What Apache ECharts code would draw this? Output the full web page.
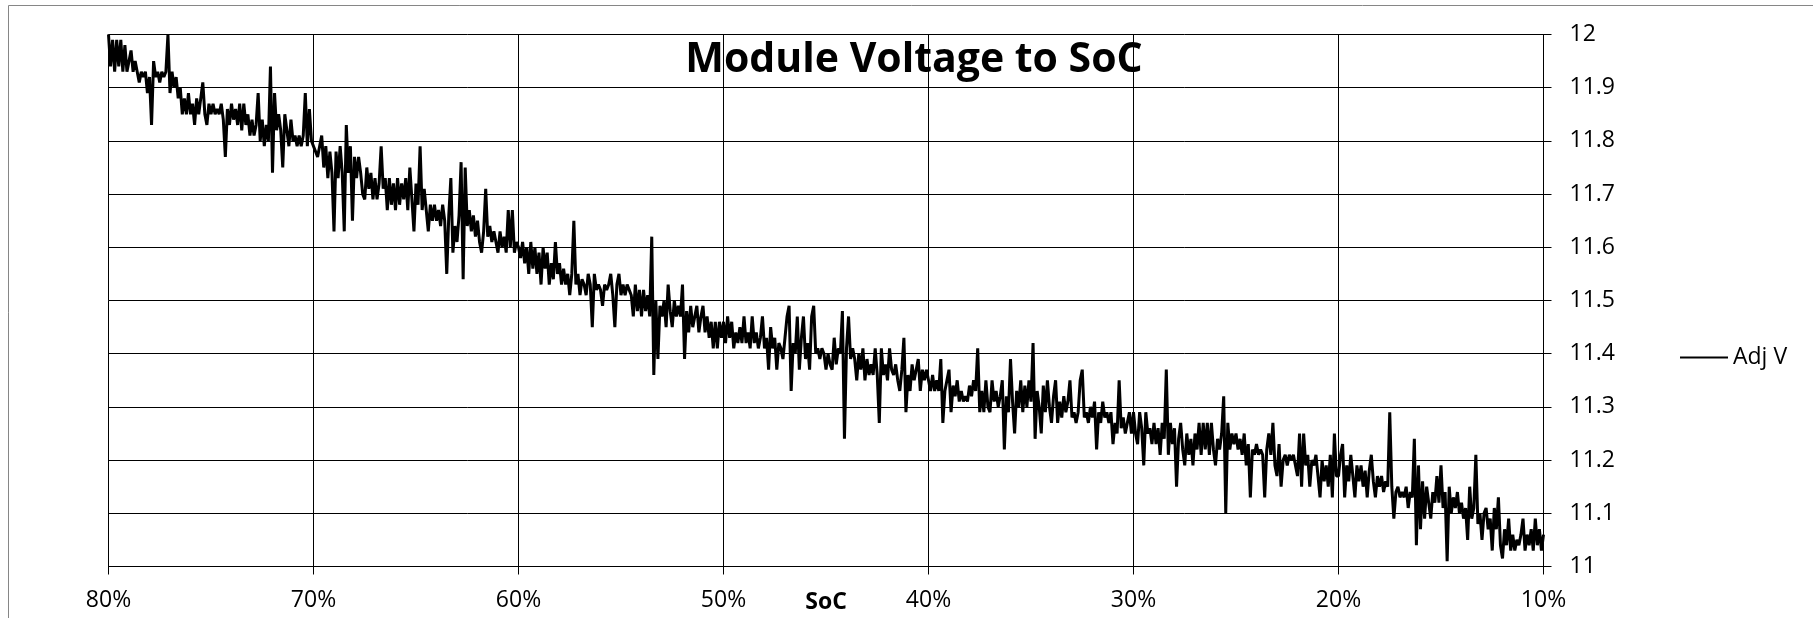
<!DOCTYPE html>
<html>
<head>
<meta charset="utf-8">
<title>Module Voltage to SoC</title>
<script src="https://cdn.jsdelivr.net/npm/echarts@6/dist/echarts.min.js"></script>
<style>
  html, body { margin: 0; padding: 0; background: #fff; }
  #chart { width: 1813px; height: 618px; }
</style>
</head>
<body>
<div id="chart"></div>
<script>
// Adj V readings, one every 0.1 % SoC.
// Split by decade of SoC (80 -> 10 %).
const v80to70 = [
  12.00, 11.94, 11.99, 11.93, 11.99, 11.94, 11.99, 11.93, 11.98, 11.93,
  11.95, 11.97, 11.93, 11.95, 11.93, 11.91, 11.93, 11.92, 11.93, 11.89,
  11.92, 11.83, 11.95, 11.92, 11.93, 11.91, 11.93, 11.92, 11.93, 12.00,
  11.89, 11.93, 11.90, 11.92, 11.88, 11.90, 11.85, 11.88, 11.85, 11.89,
  11.85, 11.87, 11.83, 11.88, 11.85, 11.88, 11.91, 11.85, 11.83, 11.87,
  11.85, 11.87, 11.85, 11.86, 11.85, 11.87, 11.84, 11.77, 11.86, 11.83,
  11.87, 11.84, 11.86, 11.83, 11.87, 11.82, 11.87, 11.83, 11.85, 11.81,
  11.84, 11.81, 11.83, 11.89, 11.80, 11.84, 11.79, 11.83, 11.80, 11.94,
  11.74, 11.89, 11.82, 11.85, 11.82, 11.75, 11.85, 11.82, 11.79, 11.84,
  11.80, 11.81, 11.79, 11.81, 11.79, 11.81, 11.89, 11.79, 11.86, 11.80
];
const v70to60 = [
  11.79, 11.78, 11.77, 11.79, 11.81, 11.75, 11.79, 11.73, 11.78, 11.74,
  11.63, 11.78, 11.73, 11.79, 11.74, 11.63, 11.83, 11.74, 11.79, 11.65,
  11.77, 11.73, 11.77, 11.74, 11.70, 11.69, 11.75, 11.71, 11.74, 11.69,
  11.73, 11.69, 11.72, 11.79, 11.71, 11.73, 11.67, 11.73, 11.68, 11.72,
  11.67, 11.73, 11.68, 11.72, 11.69, 11.73, 11.67, 11.75, 11.69, 11.63,
  11.72, 11.68, 11.79, 11.67, 11.71, 11.67, 11.63, 11.68, 11.65, 11.68,
  11.65, 11.67, 11.64, 11.68, 11.65, 11.55, 11.66, 11.73, 11.59, 11.64,
  11.61, 11.66, 11.76, 11.54, 11.75, 11.64, 11.67, 11.63, 11.66, 11.62,
  11.65, 11.61, 11.59, 11.63, 11.71, 11.62, 11.64, 11.61, 11.63, 11.61,
  11.59, 11.63, 11.60, 11.62, 11.59, 11.67, 11.60, 11.67, 11.59, 11.61
];
const v60to50 = [
  11.60, 11.58, 11.61, 11.57, 11.60, 11.55, 11.61, 11.56, 11.60, 11.55,
  11.59, 11.53, 11.60, 11.56, 11.59, 11.53, 11.57, 11.54, 11.61, 11.55,
  11.57, 11.53, 11.56, 11.53, 11.55, 11.51, 11.55, 11.65, 11.53, 11.55,
  11.51, 11.54, 11.53, 11.51, 11.55, 11.53, 11.45, 11.55, 11.52, 11.53,
  11.52, 11.49, 11.53, 11.52, 11.53, 11.55, 11.51, 11.45, 11.53, 11.55,
  11.51, 11.53, 11.51, 11.53, 11.52, 11.51, 11.47, 11.53, 11.48, 11.52,
  11.47, 11.52, 11.48, 11.51, 11.47, 11.62, 11.36, 11.50, 11.39, 11.49,
  11.47, 11.50, 11.45, 11.53, 11.48, 11.45, 11.50, 11.47, 11.49, 11.47,
  11.53, 11.39, 11.48, 11.44, 11.49, 11.45, 11.47, 11.49, 11.44, 11.47,
  11.49, 11.44, 11.47, 11.43, 11.46, 11.41, 11.46, 11.41, 11.46, 11.43
];
const v50to40 = [
  11.46, 11.42, 11.47, 11.43, 11.46, 11.41, 11.44, 11.42, 11.45, 11.42,
  11.47, 11.42, 11.44, 11.41, 11.47, 11.42, 11.44, 11.41, 11.43, 11.47,
  11.41, 11.43, 11.37, 11.45, 11.41, 11.43, 11.37, 11.42, 11.41, 11.39,
  11.43, 11.47, 11.49, 11.33, 11.42, 11.40, 11.47, 11.37, 11.43, 11.47,
  11.39, 11.42, 11.37, 11.47, 11.49, 11.40, 11.41, 11.39, 11.41, 11.40,
  11.37, 11.40, 11.38, 11.37, 11.43, 11.38, 11.41, 11.40, 11.48, 11.24,
  11.41, 11.47, 11.39, 11.41, 11.39, 11.35, 11.40, 11.37, 11.41, 11.35,
  11.39, 11.36, 11.38, 11.36, 11.41, 11.36, 11.27, 11.41, 11.36, 11.38,
  11.35, 11.41, 11.37, 11.36, 11.38, 11.35, 11.33, 11.37, 11.43, 11.29,
  11.36, 11.33, 11.38, 11.35, 11.37, 11.39, 11.33, 11.37, 11.35, 11.37
];
const v40to30 = [
  11.35, 11.33, 11.36, 11.33, 11.35, 11.33, 11.39, 11.27, 11.33, 11.35,
  11.37, 11.29, 11.34, 11.32, 11.35, 11.31, 11.33, 11.31, 11.32, 11.31,
  11.34, 11.32, 11.35, 11.33, 11.41, 11.29, 11.33, 11.29, 11.35, 11.30,
  11.29, 11.35, 11.31, 11.33, 11.30, 11.32, 11.35, 11.22, 11.32, 11.29,
  11.39, 11.31, 11.25, 11.33, 11.30, 11.35, 11.29, 11.34, 11.30, 11.35,
  11.31, 11.42, 11.24, 11.33, 11.30, 11.25, 11.34, 11.29, 11.35, 11.30,
  11.27, 11.32, 11.35, 11.27, 11.31, 11.28, 11.32, 11.29, 11.31, 11.35,
  11.28, 11.29, 11.27, 11.29, 11.35, 11.37, 11.28, 11.29, 11.27, 11.30,
  11.28, 11.31, 11.22, 11.29, 11.27, 11.31, 11.28, 11.29, 11.27, 11.29,
  11.23, 11.27, 11.25, 11.35, 11.26, 11.28, 11.25, 11.27, 11.29, 11.25
];
const v30to20 = [
  11.29, 11.25, 11.23, 11.29, 11.26, 11.19, 11.29, 11.25, 11.26, 11.23,
  11.27, 11.23, 11.26, 11.21, 11.27, 11.24, 11.37, 11.21, 11.27, 11.23,
  11.26, 11.15, 11.24, 11.27, 11.22, 11.19, 11.25, 11.21, 11.24, 11.19,
  11.25, 11.22, 11.27, 11.21, 11.27, 11.22, 11.27, 11.21, 11.27, 11.22,
  11.19, 11.24, 11.22, 11.25, 11.32, 11.10, 11.27, 11.22, 11.25, 11.23,
  11.25, 11.22, 11.24, 11.21, 11.25, 11.19, 11.23, 11.13, 11.22, 11.21,
  11.23, 11.21, 11.22, 11.21, 11.13, 11.22, 11.25, 11.21, 11.27, 11.19,
  11.17, 11.23, 11.15, 11.20, 11.21, 11.19, 11.21, 11.20, 11.21, 11.19,
  11.17, 11.25, 11.15, 11.25, 11.19, 11.21, 11.15, 11.20, 11.19, 11.21,
  11.17, 11.13, 11.20, 11.16, 11.19, 11.15, 11.21, 11.13, 11.25, 11.17
];
const v20to10 = [
  11.17, 11.21, 11.23, 11.13, 11.19, 11.16, 11.21, 11.17, 11.13, 11.19,
  11.16, 11.19, 11.15, 11.18, 11.13, 11.18, 11.21, 11.16, 11.13, 11.17,
  11.15, 11.17, 11.14, 11.16, 11.15, 11.29, 11.15, 11.09, 11.14, 11.15,
  11.13, 11.14, 11.13, 11.15, 11.11, 11.14, 11.13, 11.24, 11.04, 11.19,
  11.07, 11.16, 11.09, 11.15, 11.12, 11.09, 11.14, 11.12, 11.17, 11.12,
  11.19, 11.11, 11.14, 11.01, 11.15, 11.10, 11.13, 11.11, 11.14, 11.10,
  11.12, 11.09, 11.11, 11.05, 11.15, 11.09, 11.11, 11.21, 11.08, 11.10,
  11.05, 11.10, 11.11, 11.07, 11.09, 11.03, 11.11, 11.07, 11.13, 11.04,
  11.015, 11.07, 11.04, 11.09, 11.03, 11.06, 11.03, 11.05, 11.04, 11.06,
  11.09, 11.03, 11.06, 11.04, 11.07, 11.03, 11.09, 11.04, 11.07, 11.03, 11.06
];

const socStart = 80;   // %
const socStep = 0.1;   // % per reading
const socTicks = [80, 70, 60, 50, 40, 30, 20, 10];

const adjV = [].concat(v80to70, v70to60, v60to50, v50to40, v40to30, v30to20, v20to10);
const points = adjV.map((v, i) => [+(socStart - i * socStep).toFixed(1), v]);

const FONT = '"Open Sans", "Noto Sans", sans-serif';

const chart = echarts.init(document.getElementById('chart'), null, { renderer: 'canvas' });

chart.setOption({
  animation: false,
  backgroundColor: '#fff',
  title: {
    text: 'Module Voltage to SoC',
    left: 914,
    top: 40,
    textAlign: 'center',
    padding: 0,
    textStyle: { fontFamily: FONT, fontWeight: 'bold', fontSize: 41, color: '#000' },
  },
  legend: {
    data: ['Adj V'],
    left: 1680,
    top: 346,
    padding: 0,
    itemWidth: 48,
    itemHeight: 14,
    itemGap: 6,
    icon: 'path://M0,6 L48,6 L48,8 L0,8 Z',
    textStyle: { fontFamily: FONT, fontSize: 23, color: '#000', padding: [0, 0, 0, 0] },
  },
  graphic: [
    {
      type: 'rect',
      silent: true,
      z: -1,
      shape: { x: 8.5, y: 5.5, width: 1900, height: 700 },
      style: { fill: 'none', stroke: '#868686', lineWidth: 1 },
    },
  ],
  grid: {
    left: 108.5, right: 269.5, top: 34.5, bottom: 51.5,
    containLabel: false,
    outerBoundsMode: 'none',
  },
  xAxis: {
    type: 'value',
    inverse: true,
    min: 10,
    max: 80,
    interval: 10,
    name: 'SoC',
    nameLocation: 'middle',
    nameGap: 24,
    nameMoveOverlap: false,
    nameTextStyle: { fontFamily: FONT, fontWeight: 'bold', fontSize: 23, color: '#000' },
    axisLine: { show: true, onZero: false, lineStyle: { color: '#000', width: 1 } },
    axisTick: { show: true, length: 8, lineStyle: { color: '#000', width: 1 } },
    axisLabel: {
      margin: 22,
      fontFamily: FONT,
      fontSize: 23,
      color: '#000',
      formatter: (v) => (socTicks.includes(v) ? v + '%' : ''),
    },
    splitLine: { show: true, lineStyle: { color: '#000', width: 1 } },
  },
  yAxis: {
    type: 'value',
    position: 'right',
    min: 11,
    max: 12,
    interval: 0.1,
    axisLine: { show: true, lineStyle: { color: '#000', width: 1 } },
    axisTick: { show: true, length: 8, lineStyle: { color: '#000', width: 1 } },
    axisLabel: {
      margin: 26,
      fontFamily: FONT,
      fontSize: 23,
      color: '#000',
      formatter: (v) => String(+v.toFixed(1)),
    },
    splitLine: { show: true, lineStyle: { color: '#000', width: 1 } },
  },
  series: [
    {
      name: 'Adj V',
      type: 'line',
      data: points,
      symbol: 'none',
      lineStyle: { color: '#000', width: 3 },
      itemStyle: { color: '#000' },
      clip: false,
    },
  ],
});
</script>
</body>
</html>
